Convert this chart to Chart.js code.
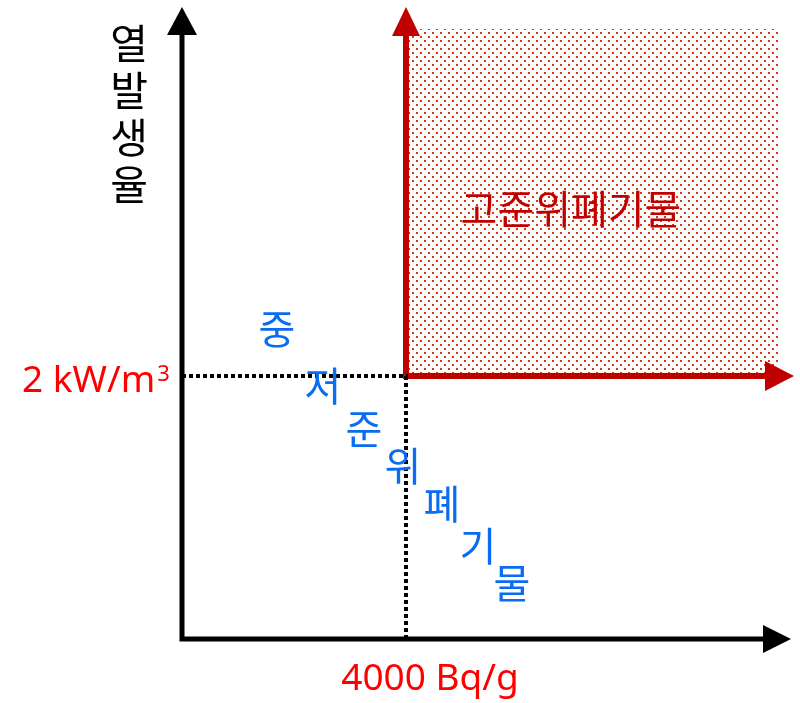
<!DOCTYPE html>
<html>
<head>
<meta charset="utf-8">
<script src="https://cdn.jsdelivr.net/npm/chart.js@4/dist/chart.umd.min.js"></script>
<style>
  html, body { margin: 0; padding: 0; background: #fff; }
  #wrap { width: 800px; height: 703px; position: relative; }
</style>
</head>
<body>
<div id="wrap"><canvas id="c"></canvas></div>
<script>
// axis ranges (radioactivity Bq/g, heat generation kW/m3)
const xRange = [0, 10660];
const yRange = [0, 4.64];
// thresholds for high-level waste
const xLimit = [4000];
const yLimit = [2];
const xLimitLabel = ["4000 Bq/g"];
const yLimitLabel = ["2 kW/m", "3"];
const yTitle = ["열", "발", "생", "율"];
const highLabel = ["고준위폐기물"];
const lowLabel = ["중", "저", "준", "위", "폐", "기", "물"];

const KR = '"Noto Sans CJK KR", "Noto Sans", sans-serif';
const LAT = '"Noto Sans", "Open Sans", sans-serif';

// dotted fill pattern
function dotPattern(ctx) {
  const p = document.createElement("canvas");
  p.width = 8; p.height = 8;
  const g = p.getContext("2d");
  g.fillStyle = "#d23a12";
  g.fillRect(0, 0, 2, 2);
  g.fillRect(4, 4, 2, 2);
  return ctx.createPattern(p, "repeat");
}

function tri(ctx, pts, color) {
  ctx.beginPath();
  ctx.moveTo(pts[0][0], pts[0][1]);
  ctx.lineTo(pts[1][0], pts[1][1]);
  ctx.lineTo(pts[2][0], pts[2][1]);
  ctx.closePath();
  ctx.fillStyle = color;
  ctx.fill();
}

const decor = {
  id: "decor",
  afterDatasetsDraw(chart) {
    const ctx = chart.ctx;
    const xs = chart.scales.x, ys = chart.scales.y;
    const a = chart.chartArea;
    const x0 = xs.getPixelForValue(xRange[0]);
    const y0 = ys.getPixelForValue(yRange[0]);
    const xl = xs.getPixelForValue(xLimit[0]);
    const yl = ys.getPixelForValue(yLimit[0]);
    ctx.save();

    // black axes
    ctx.strokeStyle = "#000";
    ctx.lineWidth = 5;
    ctx.lineJoin = "miter";
    ctx.beginPath();
    ctx.moveTo(x0, 30);
    ctx.lineTo(x0, y0);
    ctx.lineTo(a.right - 10, y0);
    ctx.stroke();
    tri(ctx, [[x0, 7], [x0 - 15, 35], [x0 + 15, 35]], "#000");
    tri(ctx, [[791, y0], [763, y0 - 14], [763, y0 + 14]], "#000");

    // red arrowheads
    tri(ctx, [[xl, 7], [xl - 14, 36], [xl + 14, 36]], "#c00000");
    tri(ctx, [[794, yl], [765, yl - 15], [765, yl + 15]], "#c00000");

    ctx.textAlign = "center";
    ctx.textBaseline = "middle";

    // y title
    ctx.fillStyle = "#000";
    ctx.font = "41px " + KR;
    yTitle.forEach((ch, i) => ctx.fillText(ch, 129, 43 + i * 47));

    // high-level label
    ctx.fillStyle = "#c00000";
    ctx.font = "40px " + KR;
    ctx.fillText(highLabel[0], 571, 209);

    // diagonal low/intermediate label
    ctx.fillStyle = "#0a6cf0";
    ctx.font = "40px " + KR;
    const pos = [[277, 329], [323, 386], [364, 429], [403, 466], [442, 504], [478, 546], [512, 583]];
    lowLabel.forEach((ch, i) => ctx.fillText(ch, pos[i][0], pos[i][1]));

    // threshold labels
    ctx.fillStyle = "#ff0000";
    ctx.textBaseline = "alphabetic";
    ctx.font = "37px " + LAT;
    ctx.textAlign = "left";
    ctx.fillText(yLimitLabel[0], 22, 392);
    const w = ctx.measureText(yLimitLabel[0]).width;
    ctx.font = "22px " + LAT;
    ctx.fillText(yLimitLabel[1], 22 + w + 2, 381);
    ctx.font = "37px " + LAT;
    ctx.textAlign = "center";
    ctx.fillText(xLimitLabel[0], xl + 24, 690);

    ctx.restore();
  }
};

const canvas = document.getElementById("c");
const ctx = canvas.getContext("2d");

new Chart(canvas, {
  type: "scatter",
  data: {
    datasets: [
      {
        label: "threshold guide",
        data: [
          { x: xRange[0], y: yLimit[0] },
          { x: xLimit[0], y: yLimit[0] },
          { x: xLimit[0], y: yRange[0] },
        ],
        showLine: true,
        borderColor: "#000",
        borderWidth: 4,
        borderDash: [4, 3],
        borderCapStyle: "butt",
        pointRadius: 0,
        fill: false,
      },
      {
        label: "high-level border",
        data: [
          { x: xLimit[0], y: yRange[1] },
          { x: xLimit[0], y: yLimit[0] },
          { x: xRange[1], y: yLimit[0] },
        ],
        showLine: true,
        borderColor: "#c00000",
        borderWidth: 6,
        borderJoinStyle: "miter",
        pointRadius: 0,
        fill: false,
        clip: false,
      },
      {
        label: "high-level region",
        data: [
          { x: xLimit[0], y: yRange[1] },
          { x: xRange[1], y: yRange[1] },
        ],
        showLine: true,
        borderWidth: 0,
        borderColor: "rgba(0,0,0,0)",
        backgroundColor: dotPattern(ctx),
        pointRadius: 0,
        fill: { value: yLimit[0] },
      },
    ],
  },
  options: {
    responsive: true,
    maintainAspectRatio: false,
    animation: false,
    layout: { padding: { left: 182, right: 21, top: 29, bottom: 64 } },
    scales: {
      x: { type: "linear", min: xRange[0], max: xRange[1], display: false },
      y: { type: "linear", min: yRange[0], max: yRange[1], display: false },
    },
    plugins: {
      legend: { display: false },
      tooltip: { enabled: false },
    },
  },
  plugins: [decor],
});
</script>
</body>
</html>
